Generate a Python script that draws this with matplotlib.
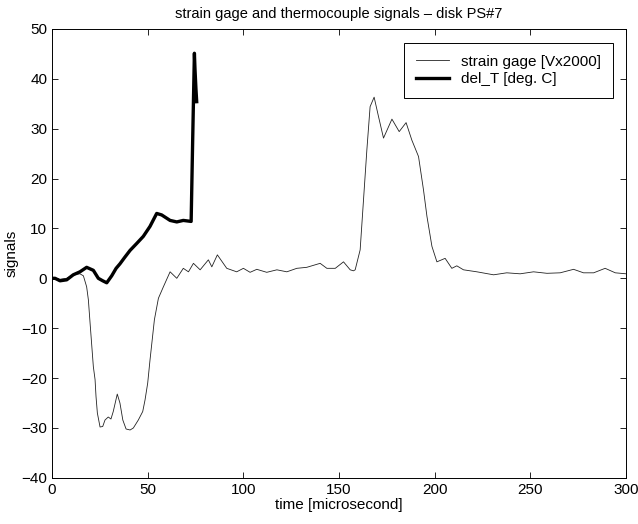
import matplotlib
matplotlib.use("Agg")
import matplotlib.pyplot as plt

plt.rcParams['font.family'] = ['Liberation Sans', 'DejaVu Sans']

# strain gage signal [V x 2000]
strain_t = [0, 1.6, 4, 7.7, 11.1, 14.6, 16.4, 18.1, 19, 19.9, 21.6, 22.5, 23, 23.7,
            25.1, 26.5, 27.7, 29.4, 30.8, 32, 34.1, 35.5, 37, 38.7, 40.8, 42.5,
            45.1, 47.4, 48.6, 50, 51.2, 53.5, 55.6, 58.2, 61.7, 65.2, 68.6, 71.3,
            73.9, 77.4, 81.7, 83.5, 86.4, 91.3, 96.5, 100, 103.5, 107, 112.2,
            117.5, 122.7, 127.9, 133.1, 140.1, 143.6, 148, 152.3, 155.8, 157.5,
            158.4, 161, 164.5, 166.2, 168.3, 170.6, 173.2, 177.6, 181.4, 185,
            188, 191.5, 194.1, 195.9, 198.5, 201.1, 205.4, 208.9, 211.5, 215,
            222, 230.7, 237.6, 244.6, 251.6, 258.6, 265.5, 272.5, 277.7, 283,
            289, 294.3, 300]
strain_v = [-0.3, 0, -0.2, 0, 0.7, 0.9, 0.5, -1.7, -4.3, -9, -17.7, -20.3, -23.7, -27,
            -29.8, -29.7, -28.4, -27.8, -28.2, -26.7, -23.2, -25, -28.4, -30.2,
            -30.4, -30, -28.4, -26.7, -24.4, -21, -16.4, -8.3, -4.0, -1.7, 1.3,
            0, 2.0, 1.3, 3.0, 1.7, 3.7, 2.3, 4.7, 2.0, 1.3, 2.0, 1.2, 1.8, 1.2,
            1.7, 1.3, 2.0, 2.2, 3.0, 2.0, 2.0, 3.3, 1.7, 1.5, 1.7, 5.7, 25.7,
            34.4, 36.3, 32.4, 28.1, 31.9, 29.4, 31.2, 27.7, 24.4, 17.7, 12.4,
            6.4, 3.3, 4.0, 2.0, 2.5, 1.7, 1.3, 0.7, 1.1, 0.9, 1.3, 1.0, 1.1,
            1.8, 1.1, 1.1, 2.0, 1.1, 0.9]

# thermocouple temperature rise [deg C]
delT_t = [0, 1.6, 4.2, 7.7, 11.1, 14.6, 18.1, 21.6, 24.2, 26.5, 28.6, 31.2,
          33.5, 35.5, 38, 40.8, 44.3, 47.7, 51.2, 54.7, 57.3, 61.7, 65.2,
          68.6, 72.7, 73.5, 74.4, 74.7, 75.2, 75.6]
delT_v = [0, 0, -0.5, -0.3, 0.7, 1.3, 2.2, 1.6, 0, -0.5, -0.9, 0.5, 2.0,
          2.9, 4.2, 5.6, 7.0, 8.4, 10.4, 13.0, 12.7, 11.6, 11.3, 11.6, 11.4,
          27.7, 45.1, 42, 38, 35.4]

fig = plt.figure(figsize=(6.38, 5.24), dpi=100)
ax = fig.add_axes([0.0815, 0.088, 0.9, 0.857])

ax.plot(strain_t, strain_v, color='#222222', linewidth=0.6, label='strain gage [Vx2000]')
ax.plot(delT_t, delT_v, color='black', linewidth=2.4, label='del_T [deg. C]')

ax.set_xlim(0, 300)
ax.set_ylim(-40, 50)
ax.set_xticks([0, 50, 100, 150, 200, 250, 300])
ax.set_yticks([-40, -30, -20, -10, 0, 10, 20, 30, 40, 50])
ax.tick_params(direction='in', top=True, right=True, labelsize=11, length=4, width=0.6)
for s in ax.spines.values():
    s.set_linewidth(0.7)

ax.set_xlabel('time [microsecond]', fontsize=11, labelpad=1)
ax.set_ylabel('signals', fontsize=11, labelpad=2)
ax.set_title('strain gage and thermocouple signals \u2013 disk PS#7', fontsize=10.5, pad=8)

leg = ax.legend(loc='upper right', bbox_to_anchor=(0.99, 0.985), fontsize=11,
                fancybox=False, edgecolor='black', framealpha=1,
                handlelength=2.2, borderpad=0.75, labelspacing=0.25)
leg.get_frame().set_linewidth(0.7)

plt.savefig('out.png', dpi=100)
